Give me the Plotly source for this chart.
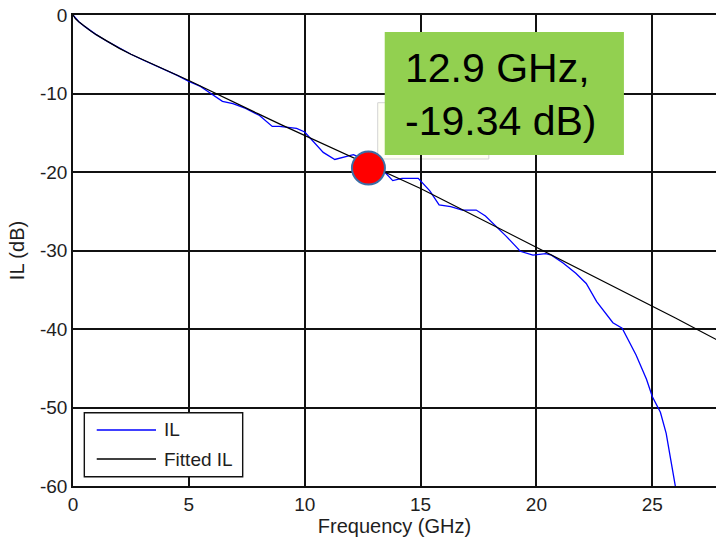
import plotly.graph_objects as go

# ---- data ----
IL_FREQ = [0, 0.25, 0.5, 0.75, 1, 1.5, 2, 2.5, 3, 3.5, 4, 4.5, 5, 5.5, 5.9, 6.2, 6.45,
           6.9, 7.45, 8.05, 8.6, 8.9, 9.3, 9.65, 10.0, 10.35, 10.8, 11.3, 11.65, 12.1,
           12.5, 12.9, 13.2, 13.45, 13.8, 14.2, 14.9, 15.4, 15.8, 16.3, 16.8, 17.4, 17.8,
           18.3, 18.7, 19.15, 19.3, 19.85, 20.4, 20.65, 21.15, 21.7, 22.15, 22.6, 23.0,
           23.3, 23.7, 24.3, 24.75, 25.0, 25.35, 25.6, 25.8, 26.0]
IL_DB = [0, -0.85, -1.45, -2.0, -2.5, -3.4, -4.25, -5.0, -5.7, -6.35, -7.0, -7.7, -8.45,
         -9.1, -9.9, -10.5, -11.0, -11.3, -11.9, -12.8, -14.2, -14.2, -14.3, -14.45,
         -14.9, -16.1, -17.5, -18.4, -18.1, -17.8, -18.3, -19.3, -19.6, -20.0, -21.1,
         -20.8, -20.8, -22.4, -24.2, -24.4, -24.85, -24.85, -25.6, -27.0, -28.2, -29.6,
         -30.1, -30.6, -30.4, -30.6, -31.6, -32.9, -34.2, -36.5, -38.0, -39.2, -39.9,
         -43.3, -46.4, -48.6, -50.6, -53.3, -56.7, -60.1]

FIT_FREQ = [0, 0.1, 0.25, 0.5, 0.75, 1, 1.25, 1.5, 2, 2.5, 3, 4, 5, 6, 7, 8, 9, 10, 11,
            12, 13, 14, 15, 16, 17, 18, 19, 20, 21, 22, 23, 24, 25, 26, 27, 28]
FIT_DB = [0, -0.45, -0.85, -1.45, -2.0, -2.5, -2.95, -3.4, -4.25, -5.0, -5.7, -7.0,
          -8.35, -9.8, -11.2, -12.6, -14.0, -15.35, -16.7, -18.0, -19.35, -20.7, -22.1,
          -23.6, -25.1, -26.6, -28.1, -29.6, -31.05, -32.5, -34.0, -35.55, -37.1,
          -38.6, -40.15, -41.7]

MARK_F = [12.75]
MARK_DB = [-19.5]

X_TICKS = [0, 5, 10, 15, 20, 25]
X_TICK_LABELS = ["0", "5", "10", "15", "20", "25"]
Y_TICKS = [0, -10, -20, -30, -40, -50, -60]
Y_TICK_LABELS = ["0", "-10", "-20", "-30", "-40", "-50", "-60"]
CALLOUT = "12.9 GHz,<br>-19.34 dB)"
SERIES_NAMES = ["IL", "Fitted IL"]
SERIES_COLORS = ["#0000FF", "#000000"]

FONT = "Arial, Liberation Sans, Helvetica, sans-serif"
GRID = "#111111"
TXT = "#1e1e1e"

fig = go.Figure()
fig.add_trace(go.Scatter(x=IL_FREQ, y=IL_DB, mode="lines", name=SERIES_NAMES[0],
                         showlegend=False,
                         line=dict(color=SERIES_COLORS[0], width=1.3)))
fig.add_trace(go.Scatter(x=FIT_FREQ, y=FIT_DB, mode="lines", name=SERIES_NAMES[1],
                         showlegend=False,
                         line=dict(color=SERIES_COLORS[1], width=1.2)))
fig.add_trace(go.Scatter(x=MARK_F, y=MARK_DB, mode="markers", showlegend=False,
                         marker=dict(size=33, color="#FF0000",
                                     line=dict(color="#3C6EA6", width=2))))

# MATLAB datatip box (faint), drawn between grid and traces
fig.add_shape(type="rect", xref="paper", yref="paper", x0=0.4739, x1=0.6467,
              y0=0.6943, y1=0.8138, fillcolor="#FFFFF4",
              line=dict(color="#D4D4D4", width=1), layer="between")
# green callout box
fig.add_shape(type="rect", xref="paper", yref="paper", x0=0.4848, x1=0.8568,
              y0=0.7028, y1=0.9639, fillcolor="#92D050",
              line=dict(width=0), layer="above")
fig.add_annotation(xref="paper", yref="paper", x=0.5135, y=0.8320,
                   xanchor="left", yanchor="middle", align="left",
                   text=CALLOUT, showarrow=False,
                   font=dict(family=FONT, size=41, color="#000000"))

# legend box (MATLAB style)
fig.add_shape(type="rect", xref="paper", yref="paper", x0=0.0176, x1=0.2639,
              y0=0.0197, y1=0.1556, fillcolor="white",
              line=dict(color="#111111", width=1.4), layer="above")
for name, color, yy in zip(SERIES_NAMES, SERIES_COLORS, [0.1189, 0.0573]):
    fig.add_shape(type="line", xref="paper", yref="paper", x0=0.0369, x1=0.1291,
                  y0=yy, y1=yy, line=dict(color=color, width=1.4), layer="above")
    fig.add_annotation(xref="paper", yref="paper", x=0.138, y=yy, xanchor="left",
                       yanchor="middle", text=name, showarrow=False,
                       font=dict(family=FONT, size=19, color=TXT))

axis_common = dict(showgrid=True, gridcolor=GRID, gridwidth=1.5,
                   showline=True, linecolor=GRID, linewidth=1.5,
                   zeroline=False, ticks="inside", ticklen=5, tickcolor=GRID,
                   automargin=False,
                   tickfont=dict(family=FONT, size=19, color=TXT))

fig.update_layout(
    width=716, height=542,
    margin=dict(l=73, r=0, t=15, b=56),
    paper_bgcolor="white", plot_bgcolor="white",
    showlegend=False,
    xaxis=dict(range=[0, 27.75], tickvals=X_TICKS, ticktext=X_TICK_LABELS,
               mirror=True,
               title=dict(text="Frequency (GHz)", standoff=4,
                          font=dict(family=FONT, size=20, color=TXT)),
               **axis_common),
    yaxis=dict(range=[-60, 0], tickvals=Y_TICKS, ticktext=Y_TICK_LABELS,
               mirror=False,
               title=dict(text="IL (dB)", standoff=10,
                          font=dict(family=FONT, size=20, color=TXT)),
               **axis_common),
)

fig.write_html("out.html", config={"displayModeBar": False},
               post_script="document.body.style.margin='0';"
                           "document.body.style.overflow='hidden';")
